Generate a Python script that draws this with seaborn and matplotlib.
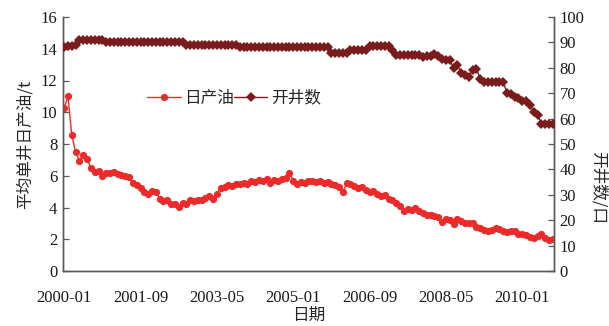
import matplotlib
matplotlib.use("Agg")
import matplotlib.pyplot as plt
import seaborn as sns
import pandas as pd
from matplotlib.lines import Line2D

# Monthly oil production per well (t/d), Jan 2000 onward
oil_per_well = [
    10.25, 11.0, 8.55, 7.5, 6.95, 7.3, 7.05, 6.5, 6.25, 6.3,
    6.0, 6.2, 6.15, 6.25, 6.1, 6.05, 6.0, 5.9, 5.55, 5.4,
    5.2, 5.0, 4.85, 5.05, 5.0, 4.55, 4.4, 4.45, 4.2, 4.25,
    4.05, 4.3, 4.25, 4.45, 4.4, 4.5, 4.45, 4.6, 4.75, 4.55,
    4.85, 5.25, 5.3, 5.4, 5.35, 5.5, 5.45, 5.55, 5.5, 5.65,
    5.6, 5.75, 5.7, 5.8, 5.55, 5.75, 5.65, 5.8, 5.85, 6.2,
    5.7, 5.5, 5.6, 5.55, 5.65, 5.7, 5.6, 5.7, 5.55, 5.6,
    5.5, 5.4, 5.3, 4.95, 5.55, 5.5, 5.35, 5.2, 5.3, 5.1,
    5.0, 5.05, 4.85, 4.75, 4.8, 4.55, 4.45, 4.3, 4.1, 3.75,
    3.9, 3.85, 3.95, 3.8, 3.65, 3.55, 3.5, 3.45, 3.4, 3.1,
    3.25, 3.2, 2.95, 3.25, 3.15, 3.05, 3.0, 3.05, 2.75, 2.7,
    2.6, 2.55, 2.6, 2.7, 2.65, 2.5, 2.45, 2.5, 2.55, 2.35,
    2.3, 2.25, 2.15, 2.1, 2.2, 2.3, 2.05, 1.95, 2.0,
]

# Number of producing wells per month
open_wells = [
    88, 88.5, 88.5, 89, 91, 91, 91, 91, 91, 91,
    91, 90, 90, 90, 90, 90, 90, 90, 90, 90,
    90, 90, 90, 90, 90, 90, 90, 90, 90, 90,
    90, 90, 89, 89, 89, 89, 89, 89, 89, 89,
    89, 89, 89, 89, 89, 89, 88, 88, 88, 88,
    88, 88, 88, 88, 88, 88, 88, 88, 88, 88,
    88, 88, 88, 88, 88, 88, 88, 88, 88, 88,
    86, 86, 86, 86, 86, 87, 87, 87, 87, 87,
    88.5, 88.5, 88.5, 88.5, 88.5, 88.5, 87, 85, 85, 85,
    85, 85, 85, 85, 84.2, 84.5, 84.7, 85.5, 84.5, 83.5,
    83, 83, 80, 81, 78, 77, 76.5, 79, 79.5, 75.5,
    74.5, 74.5, 74.5, 74.5, 74.5, 74.5, 70, 69.5, 68.5, 68,
    67, 66.8, 65.5, 62.5, 61.5, 58, 58, 58, 58,
]

months = pd.date_range("2000-01-01", periods=len(oil_per_well), freq="MS")
tick_labels = ["2000-01", "2001-09", "2003-05", "2005-01", "2006-09", "2008-05", "2010-01"]

df = pd.DataFrame({
    "idx": range(len(months)),
    "oil": oil_per_well,
    "wells": open_wells,
})
tick_pos = [df.index[months.strftime("%Y-%m") == t][0] for t in tick_labels]

sns.set_theme(style="white")
plt.rcParams["font.family"] = ["Liberation Serif", "Noto Sans CJK SC"]
plt.rcParams["axes.unicode_minus"] = False

RED = "#EC2A2A"
BROWN = "#7A1C1C"
AXIS = "#595959"

fig = plt.figure(figsize=(6.09, 3.26), dpi=100)
ax = fig.add_axes([63 / 609, 1 - 271 / 326, (554 - 63) / 609, (271 - 17) / 326])
ax2 = ax.twinx()

sns.lineplot(data=df, x="idx", y="oil", ax=ax, color=RED, lw=1.0,
             marker="o", markersize=5.2, markeredgewidth=0, zorder=3)
sns.lineplot(data=df, x="idx", y="wells", ax=ax2, color=BROWN, lw=1.0,
             marker="D", markersize=4.6, markeredgewidth=0, zorder=3)

ax.set_xlim(-0.3, 128.3)
ax.set_ylim(0, 16)
ax2.set_ylim(0, 100)
ax.set_yticks(range(0, 17, 2))
ax2.set_yticks(range(0, 101, 10))
ax.set_xticks(tick_pos)
ax.set_xticklabels(tick_labels)

cjk = ["Noto Sans CJK SC", "Liberation Serif"]
ax.set_xlabel("日期", fontsize=12, family=cjk, va="center")
ax.xaxis.set_label_coords(0.5, -0.176)
ax.set_ylabel("平均单井日产油/t", fontsize=12, family=cjk, labelpad=5)
ax2.set_ylabel("开井数/口", fontsize=12, family=cjk, rotation=270, va="center")
ax2.yaxis.set_label_coords(1.09, 0.33)

for a in (ax, ax2):
    a.grid(False)
    for side, sp in a.spines.items():
        sp.set_color(AXIS)
        sp.set_linewidth(1.0)
    a.spines["top"].set_visible(False)
    a.tick_params(direction="in", length=4, width=0.9, color=AXIS,
                  labelsize=12, labelcolor="#1a1a1a", pad=4)
ax.tick_params(axis="x", pad=14)

handles = [
    Line2D([], [], color=RED, lw=1.0, marker="o", markersize=5.2, markeredgewidth=0),
    Line2D([], [], color=BROWN, lw=1.0, marker="D", markersize=4.6, markeredgewidth=0),
]
ax.legend(handles, ["日产油", "开井数"], loc="center left",
          bbox_to_anchor=(0.172, 0.68), ncol=2, frameon=False,
          prop={"family": cjk, "size": 12}, handlelength=2.0,
          handletextpad=0.2, columnspacing=0.0, borderpad=0, borderaxespad=0)

fig.savefig("out.png", dpi=100)
